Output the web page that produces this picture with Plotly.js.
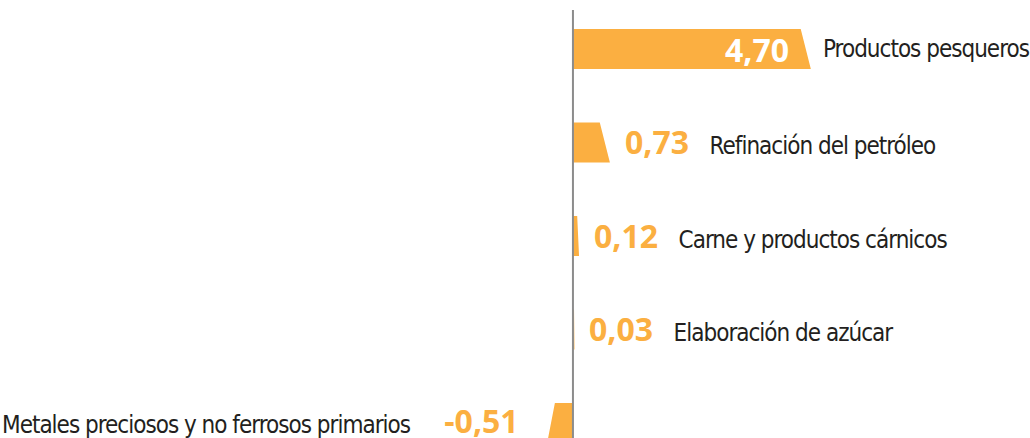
<!DOCTYPE html>
<html lang="es">
<head>
    <meta charset="UTF-8">
    <title>Variación por rama</title>
    <script src="https://cdn.plot.ly/plotly-3.0.1.min.js"></script>
    <style>
        body { margin: 0; background: #fff; }
        #chart { width: 1030px; height: 438px; }
    </style>
</head>
<body>
    <div id="chart"></div>
    <script>
        // Data
        const categories = ['Productos pesqueros', 'Refinación del petróleo', 'Carne y productos cárnicos', 'Elaboración de azúcar', 'Metales preciosos y no ferrosos primarios'];
        const values = [4.70, 0.73, 0.12, 0.03, -0.51];
        const valueLabels = ['4,70', '0,73', '0,12', '0,03', '-0,51'];

        const orange = '#FBAF41';
        const catFont = "'DejaVu Sans Condensed', 'DejaVu Sans', sans-serif";
        const catSize = 24;
        const valStyle = "font-family:'Open Sans';font-weight:bold;font-size:32px;letter-spacing:0px;color:" + orange;
        const cat = t => '<span style="letter-spacing:-1px">' + t + '</span>';

        // bars with a slanted end: bottom edge at the value, top edge pulled back
        const half = 0.214;
        const xs = [], ys = [];
        values.forEach((v, i) => {
            const s = Math.sign(v) * Math.min(0.2, Math.abs(v) * 0.3);
            xs.push(0, v, v - s, 0, 0, null);
            ys.push(i + half, i + half, i - half, i - half, i + half, null);
        });

        const bars = {
            x: xs, y: ys,
            type: 'scatter', mode: 'lines',
            fill: 'toself', fillcolor: orange,
            line: { width: 0 },
            hoverinfo: 'skip', showlegend: false
        };

        const annotations = [];
        const nb = n => '&nbsp;'.repeat(n);
        values.forEach((v, i) => {
            if (i === 0) {
                annotations.push({
                    x: v, y: i, xref: 'x', yref: 'y', showarrow: false,
                    xanchor: 'right', yanchor: 'middle', xshift: -20,
                    text: '<b>' + valueLabels[i] + '</b>',
                    font: { family: 'Open Sans', size: 32, color: '#ffffff' }
                });
                annotations.push({
                    x: v, y: i, xref: 'x', yref: 'y', showarrow: false,
                    xanchor: 'left', yanchor: 'middle', xshift: 10,
                    text: cat(categories[i]),
                    font: { family: catFont, size: catSize, color: '#231f20' }
                });
            } else if (v >= 0) {
                annotations.push({
                    x: v, y: i, xref: 'x', yref: 'y', showarrow: false,
                    xanchor: 'left', yanchor: 'middle', xshift: 13, yshift: 1,
                    text: '<span style="' + valStyle + '">' + valueLabels[i] + '</span>' + nb(3) + cat(categories[i]),
                    font: { family: catFont, size: catSize, color: '#231f20' }
                });
            } else {
                annotations.push({
                    x: v, y: i, xref: 'x', yref: 'y', showarrow: false,
                    xanchor: 'right', yanchor: 'middle', xshift: -26, yshift: 3,
                    text: cat(categories[i]) + nb(5) + '<span style="' + valStyle + '">' + valueLabels[i] + '</span>',
                    font: { family: catFont, size: catSize, color: '#231f20' }
                });
            }
        });

        const layout = {
            width: 1030, height: 438,
            margin: { l: 0, r: 0, t: 0, b: 0 },
            paper_bgcolor: '#ffffff', plot_bgcolor: '#ffffff',
            xaxis: { range: [-11.32, 9.03], showgrid: false, zeroline: false, showticklabels: false, fixedrange: true },
            yaxis: { range: [4.16, -0.524], showgrid: false, zeroline: false, showticklabels: false, fixedrange: true },
            shapes: [{
                type: 'line', xref: 'x', yref: 'paper',
                x0: 0, x1: 0, y0: 0, y1: 0.977,
                line: { color: '#8c8c8c', width: 2 }
            }],
            annotations: annotations
        };

        Plotly.newPlot('chart', [bars], layout, { displayModeBar: false, staticPlot: true });
    </script>
</body>
</html>
